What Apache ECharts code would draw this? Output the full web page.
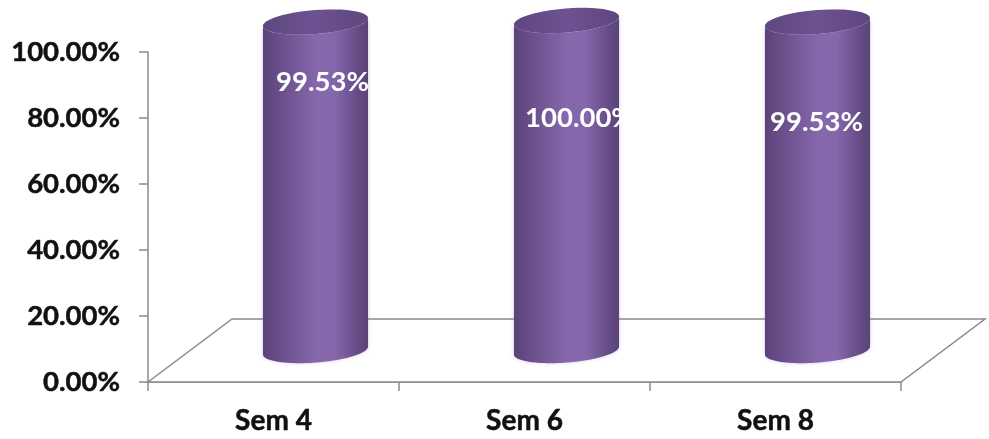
<!DOCTYPE html>
<html><head><meta charset="utf-8">
<style>html,body{margin:0;padding:0;background:#fff}#c{width:989px;height:439px}</style>
<script src="https://cdn.jsdelivr.net/npm/echarts@6/dist/echarts.min.js"></script>
</head><body><div id="c"></div>
<script>
const categories = ['Sem 4', 'Sem 6', 'Sem 8'];
const values = [99.53, 100.00, 99.53];
const yTicks = { min: 0, max: 100, interval: 20 };

// layout of the fake 3D look, in pixels
const DEPTH_X = 84, DEPTH_Y = 63;
const RX_RATIO = 0.21, RY = 12, TILT = -4.5 * Math.PI / 180;
const labelShift = [[7, 60], [13, 98], [-1, 100]];
const FONT = 'Lato, Carlito, "Open Sans", sans-serif';
const AXIS = '#8a8a8a';

const body = { type: 'linear', x: 0, y: 0, x2: 1, y2: 0, colorStops: [
  { offset: 0, color: '#5a4378' }, { offset: 0.12, color: '#664c86' },
  { offset: 0.5, color: '#8567ab' }, { offset: 0.68, color: '#8567ab' },
  { offset: 0.9, color: '#664c86' }, { offset: 1, color: '#5a4378' }] };
const lid = { type: 'linear', x: 0, y: 0, x2: 1, y2: 0, colorStops: [
  { offset: 0, color: '#5f4780' }, { offset: 0.5, color: '#6c5290' }, { offset: 1, color: '#5e4680' }] };

function ell(cx, cy, rx, a) {
  const c = Math.cos(a), s = Math.sin(a);
  const x = rx * c, y = RY * s;
  return [cx + x * Math.cos(TILT) - y * Math.sin(TILT), cy + x * Math.sin(TILT) + y * Math.cos(TILT)];
}
function arc(cx, cy, rx, a0, a1) {
  const out = [];
  for (let i = 0; i <= 48; i++) out.push(ell(cx, cy, rx, a0 + (a1 - a0) * i / 48));
  return out;
}
function renderFloor(params, api) {
  if (params.dataIndex !== 0) return;
  const a = api.coord([0, 0]);
  const w = api.size([1, 0])[0];
  const x0 = a[0] - w / 2, x1 = x0 + w * categories.length, y = a[1];
  return { type: 'polygon', z2: 0, shape: { points: [[x0, y], [x0 + DEPTH_X, y - DEPTH_Y], [x1 + DEPTH_X, y - DEPTH_Y], [x1, y]] },
    style: { fill: '#fff', stroke: AXIS, lineWidth: 1.5 } };
}
function renderCyl(params, api) {
  const i = api.value(0), v = api.value(1);
  const base = api.coord([i, 0]), top = api.coord([i, v]);
  const rx = api.size([1, 0])[0] * RX_RATIO;
  const cx = base[0] + DEPTH_X / 2, by = base[1] - DEPTH_Y / 2, ty = top[1] - DEPTH_Y / 2;
  const bodyPts = arc(cx, ty, rx, Math.PI, 0).concat(arc(cx, by, rx, 0, Math.PI));
  const s = labelShift[i];
  return { type: 'group', children: [
    { type: 'polygon', shape: { points: bodyPts }, style: { fill: body, shadowBlur: 4, shadowColor: 'rgba(150,120,200,0.35)' } },
    { type: 'polygon', shape: { points: arc(cx, ty, rx, 0, Math.PI * 2) }, style: { fill: lid } },
    { type: 'text', x: cx + s[0], y: ty + s[1], style: { text: v.toFixed(2) + '%', fill: '#fff',
      font: 'bold 27.5px ' + FONT, align: 'center', verticalAlign: 'middle', shadowBlur: 3, shadowColor: 'rgba(255,255,255,0.8)' } }
  ] };
}
const rows = categories.map((c, i) => [i, values[i]]);
const chart = echarts.init(document.getElementById('c'), null, { renderer: 'canvas' });
chart.setOption({
  animation: false,
  grid: { left: 148, right: 88, top: 52, bottom: 57 },
  xAxis: { type: 'category', data: categories, boundaryGap: true,
    axisLine: { lineStyle: { color: AXIS, width: 1.5 } },
    axisTick: { show: true, length: 9, alignWithLabel: false, lineStyle: { color: AXIS, width: 1.5 } },
    axisLabel: { margin: 25, color: '#111', fontFamily: FONT, fontWeight: 'bold', fontSize: 28,
      textBorderColor: '#111', textBorderWidth: 0.5 } },
  yAxis: { type: 'value', min: yTicks.min, max: yTicks.max, interval: yTicks.interval,
    splitLine: { show: false },
    axisLine: { show: true, lineStyle: { color: AXIS, width: 1.5 } },
    axisTick: { show: true, length: 9, lineStyle: { color: AXIS, width: 1.5 } },
    axisLabel: { margin: 28, color: '#111', fontFamily: FONT, fontWeight: 'bold', fontSize: 27.5,
      textBorderColor: '#111', textBorderWidth: 0.5,
      formatter: v => v.toFixed(2) + '%' } },
  series: [
    { type: 'custom', renderItem: renderFloor, data: rows, clip: false, z: 1, silent: true },
    { type: 'custom', renderItem: renderCyl, data: rows, clip: false, z: 2, encode: { x: 0, y: 1 } }
  ]
});
</script></body></html>
